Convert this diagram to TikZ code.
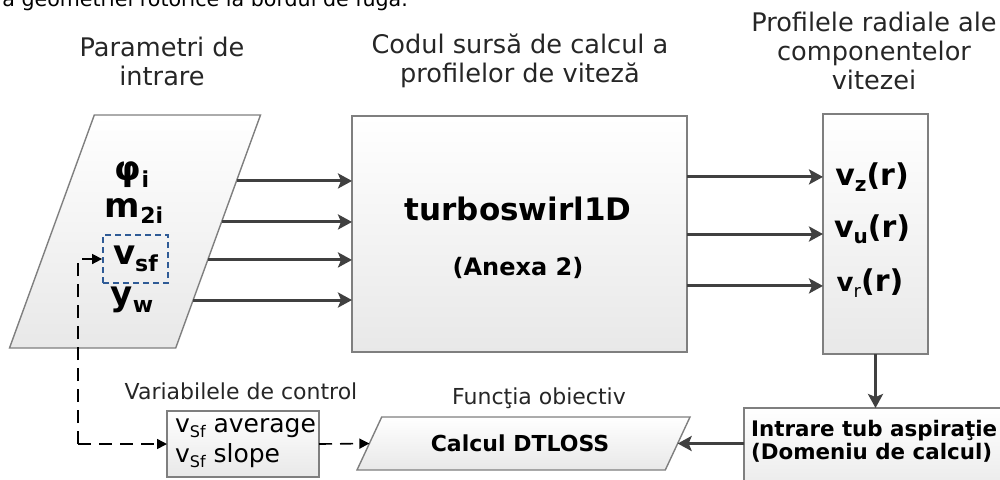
\documentclass[tikz,border=0pt]{standalone}
\usepackage{fontspec}
\setmainfont{DejaVu Sans}
\usetikzlibrary{shapes.geometric,arrows.meta,calc}

\definecolor{boxline}{HTML}{7F7F7F}
\definecolor{flowline}{HTML}{404040}
\definecolor{selline}{HTML}{2F5B96}

\newcommand{\idx}[2]{\raisebox{-0.35ex}{\fontsize{#1}{#1}\selectfont #2}}

\tikzset{
  blockbox/.style={draw=boxline, line width=0.7pt, top color=white, bottom color=black!9,
    inner sep=0pt, outer sep=0pt},
  slantbox/.style={blockbox, trapezium, trapezium stretches body, inner xsep=0pt},
  flow/.style={draw=flowline, line width=1.5pt, -{Stealth[length=7pt,width=7.5pt,inset=1.5pt]}},
  ctrlflow/.style={draw=black, line width=0.8pt, dash pattern=on 6.5pt off 4pt,
    -{Triangle[length=5pt,width=5pt]}},
  caption/.style={align=center, text=black!85, font=\fontsize{12.8}{14.5}\selectfont},
  smallcap/.style={text=black!85, font=\fontsize{11}{13}\selectfont},
  param/.style={font=\fontsize{17}{20}\selectfont\bfseries},
  profile/.style={font=\fontsize{15}{18}\selectfont\bfseries},
}

\begin{document}
\begin{tikzpicture}[x=0.5pt,y=-0.5pt]
  \useasboundingbox (0,0) rectangle (1000,479);
  \clip (0,0) rectangle (1000,479);

  \node[anchor=base west, inner sep=0pt, font=\fontsize{10.3}{12}\selectfont] (prevline) at (2,6)
    {a geometriei rotorice la bordul de fugă.};

  % captions
  \node[caption] (paramcap) at (162,61) {Parametri de\\intrare};
  \node[caption] (solvercap) at (520,61) {Codul sursă de calcul a\\profilelor de viteză};
  \node[caption] (profilecap) at (874,51) {Profilele radiale ale\\componentelor\\vitezei};

  % input parameters
  \node[slantbox, trapezium left angle=70, trapezium right angle=110,
    inner ysep=58.25pt, minimum width=125.5pt] (params) at (135,231.5) {};
  \node[param] (phi) at (132,175) {φ\idx{11}{i}};
  \node[param] (mtwo) at (134,211) {m\idx{11}{2i}};
  \node[param, draw=selline, line width=0.9pt, densely dashed, inner sep=0pt,
    minimum width=32.5pt, minimum height=24pt] (vsf) at (135.5,259) {v\idx{11}{sf}};
  \node[param] (yw) at (132,300) {y\idx{11}{w}};

  % solver
  \node[blockbox, minimum width=167.5pt, minimum height=118pt] (solver) at (519.5,234) {};
  \node[anchor=base, font=\fontsize{15.5}{18}\selectfont\bfseries] (code) at (518,220) {turboswirl1D};
  \node[anchor=base, font=\fontsize{12}{14}\selectfont\bfseries] (annex) at (518,275) {(Anexa 2)};

  \foreach \t [count=\i] in {0.717,0.541,0.378,0.206}{
    \coordinate (in\i) at ($(params.bottom right corner)!\t!(params.top right corner)$);
    \draw[flow] (in\i) -- (in\i -| solver.west);
  }

  % velocity profiles
  \node[blockbox, minimum width=52.5pt, minimum height=120pt] (profiles) at (875.5,234) {};
  \node[profile] (vz) at (872,177) {v\idx{10}{z}(r)};
  \node[profile] (vu) at (872,229) {v\idx{10}{u}(r)};
  \node[profile] (vr) at (870,283) {{\fontsize{13}{15}\selectfont v}\idx{9}{\mdseries r}(r)};

  \foreach \t [count=\i] in {0.258,0.5,0.72}{
    \coordinate (out\i) at ($(solver.north east)!\t!(solver.south east)$);
    \draw[flow] (out\i) -- (out\i -| profiles.west);
  }

  % bottom row
  \node[blockbox, anchor=north west, minimum width=150pt, minimum height=45pt] (intrare) at (744,408) {};
  \node[anchor=west, align=left, font=\fontsize{10.7}{9.5}\selectfont\bfseries] (intraretxt) at (744,441)
    {Intrare tub aspiraţie\\(Domeniu de calcul)};
  \draw[flow] (profiles.south) -- (profiles.south |- intrare.north);

  \node[slantbox, trapezium left angle=65, trapezium right angle=115,
    inner ysep=13.25pt, minimum width=166.5pt] (dtloss) at (523.5,443.5) {};
  \node[font=\fontsize{11}{13}\selectfont\bfseries] (dtlosstxt) at (520,443.5) {Calcul DTLOSS};
  \node[smallcap] (dtlosscap) at (539,398) {Funcţia obiectiv};
  \draw[flow] (intrare.west |- dtloss.east) -- (dtloss.east);

  \node[blockbox, minimum width=76pt, minimum height=33pt] (ctrl) at (243,444) {};
  \node[anchor=west, align=left, font=\fontsize{12.5}{15}\selectfont] (ctrltxt) at (168,443)
    {v\idx{8}{Sf} average\\v\idx{8}{Sf} slope};
  \node[smallcap] (ctrlcap) at (241,391) {Variabilele de control};

  \coordinate (loop) at (78,444);
  \draw[ctrlflow] (loop) -- (ctrl.west);
  \draw[ctrlflow] (loop) |- (vsf.west);
  \draw[ctrlflow] (ctrl.east) -- (dtloss.west);
\end{tikzpicture}
\end{document}
